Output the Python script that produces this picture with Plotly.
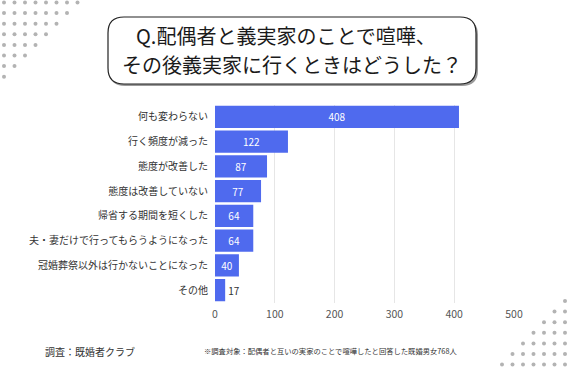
import plotly.graph_objects as go

categories = [
    "何も変わらない",
    "行く頻度が減った",
    "態度が改善した",
    "態度は改善していない",
    "帰省する期間を短くした",
    "夫・妻だけで行ってもらうようになった",
    "冠婚葬祭以外は行かないことになった",
    "その他",
]
values = [408, 122, 87, 77, 64, 64, 40, 17]
x_ticks = [0, 100, 200, 300, 400, 500]

title_lines = ["Q.配偶者と義実家のことで喧嘩、", "その後義実家に行くときはどうした？"]
source_text = "調査：既婚者クラブ"
note_text = "※調査対象：配偶者と互いの実家のことで喧嘩したと回答した既婚男女768人"

W, H = 568, 368
JP = "Noto Sans CJK JP"
BAR_COLOR = "#4f6aee"


def px(x):
    return x / W


def py(y):
    return 1 - y / H


fig = go.Figure()
fig.add_trace(go.Bar(
    x=values,
    y=categories,
    orientation="h",
    marker=dict(color=BAR_COLOR, line=dict(width=0)),
    text=[str(v) for v in values],
    textposition="auto",
    insidetextanchor="middle",
    insidetextfont=dict(color="white", size=10, family=JP),
    outsidetextfont=dict(color="#333333", size=10, family=JP),
    cliponaxis=False,
    hoverinfo="skip",
))

shapes = []


def rounded_path(x0, y0, x1, y1, r):
    rx, ry = r / W, r / H
    X0, X1 = px(x0), px(x1)
    Y0, Y1 = py(y0), py(y1)
    return (
        f"M {X0+rx},{Y0} L {X1-rx},{Y0} Q {X1},{Y0} {X1},{Y0-ry} "
        f"L {X1},{Y1+ry} Q {X1},{Y1} {X1-rx},{Y1} "
        f"L {X0+rx},{Y1} Q {X0},{Y1} {X0},{Y1+ry} "
        f"L {X0},{Y0-ry} Q {X0},{Y0} {X0+rx},{Y0} Z"
    )


shapes.append(dict(type="path", xref="paper", yref="paper",
                   path=rounded_path(109, 19, 478, 86, 16),
                   fillcolor="#9a9a9a", line=dict(width=0), layer="below"))
shapes.append(dict(type="path", xref="paper", yref="paper",
                   path=rounded_path(108, 17, 476, 84, 16),
                   fillcolor="white", line=dict(color="#222222", width=1.2), layer="below"))

DOT = "#b3b3b3"
r = 2.0
step_x, step_y = 10.5, 10.6
for row in range(8):
    for col in range(8 - row):
        cx, cy = 4 + col * step_x, 2.5 + row * step_y
        shapes.append(dict(type="circle", xref="paper", yref="paper",
                           x0=px(cx - r), x1=px(cx + r), y0=py(cy + r), y1=py(cy - r),
                           fillcolor=DOT, line=dict(width=0), layer="below"))
for row in range(7):
    for k in range(row + 1):
        cx = 565 - k * step_x
        cy = 301 + row * 10.6
        shapes.append(dict(type="circle", xref="paper", yref="paper",
                           x0=px(cx - r), x1=px(cx + r), y0=py(cy + r), y1=py(cy - r),
                           fillcolor=DOT, line=dict(width=0), layer="below"))

annotations = [
    dict(text=title_lines[0], x=px(286), y=py(35), xref="paper", yref="paper",
         showarrow=False, xanchor="center", yanchor="middle",
         font=dict(family=JP, size=20, color="#1a1a1a")),
    dict(text=title_lines[1], x=px(292), y=py(64.5), xref="paper", yref="paper",
         showarrow=False, xanchor="center", yanchor="middle",
         font=dict(family=JP, size=20, color="#1a1a1a")),
    dict(text=source_text, x=px(43), y=py(351), xref="paper", yref="paper",
         showarrow=False, xanchor="left", yanchor="middle",
         font=dict(family=JP, size=10, color="#333333")),
    dict(text=note_text, x=px(202), y=py(351), xref="paper", yref="paper",
         showarrow=False, xanchor="left", yanchor="middle",
         font=dict(family=JP, size=7.3, color="#333333")),
]

fig.update_layout(
    width=W, height=H, autosize=False,
    margin=dict(l=0, r=0, t=0, b=0, pad=0),
    paper_bgcolor="white", plot_bgcolor="white",
    showlegend=False,
    bargap=0.1,
    shapes=shapes,
    annotations=annotations,
    xaxis=dict(
        domain=[px(215), px(514)],
        range=[0, 500],
        tickvals=x_ticks,
        ticktext=[str(t) for t in x_ticks],
        showgrid=True, gridcolor="#e6e6e6", gridwidth=1,
        zeroline=False, showline=False,
        tickfont=dict(family=JP, size=10.5, color="#555555"),
        ticks="", ticklabelstandoff=4, automargin=False,
    ),
    yaxis=dict(
        domain=[py(302.5), py(104.5)],
        autorange="reversed",
        showgrid=False, zeroline=False, showline=False,
        tickfont=dict(family=JP, size=10, color="#333333"),
        ticks="", ticklabelstandoff=6, automargin=False,
    ),
    font=dict(family=JP),
)

fig.write_html(
    "out.html",
    config={"displayModeBar": False, "staticPlot": True},
    post_script="document.body.style.margin='0';document.body.style.overflow='hidden';",
)
